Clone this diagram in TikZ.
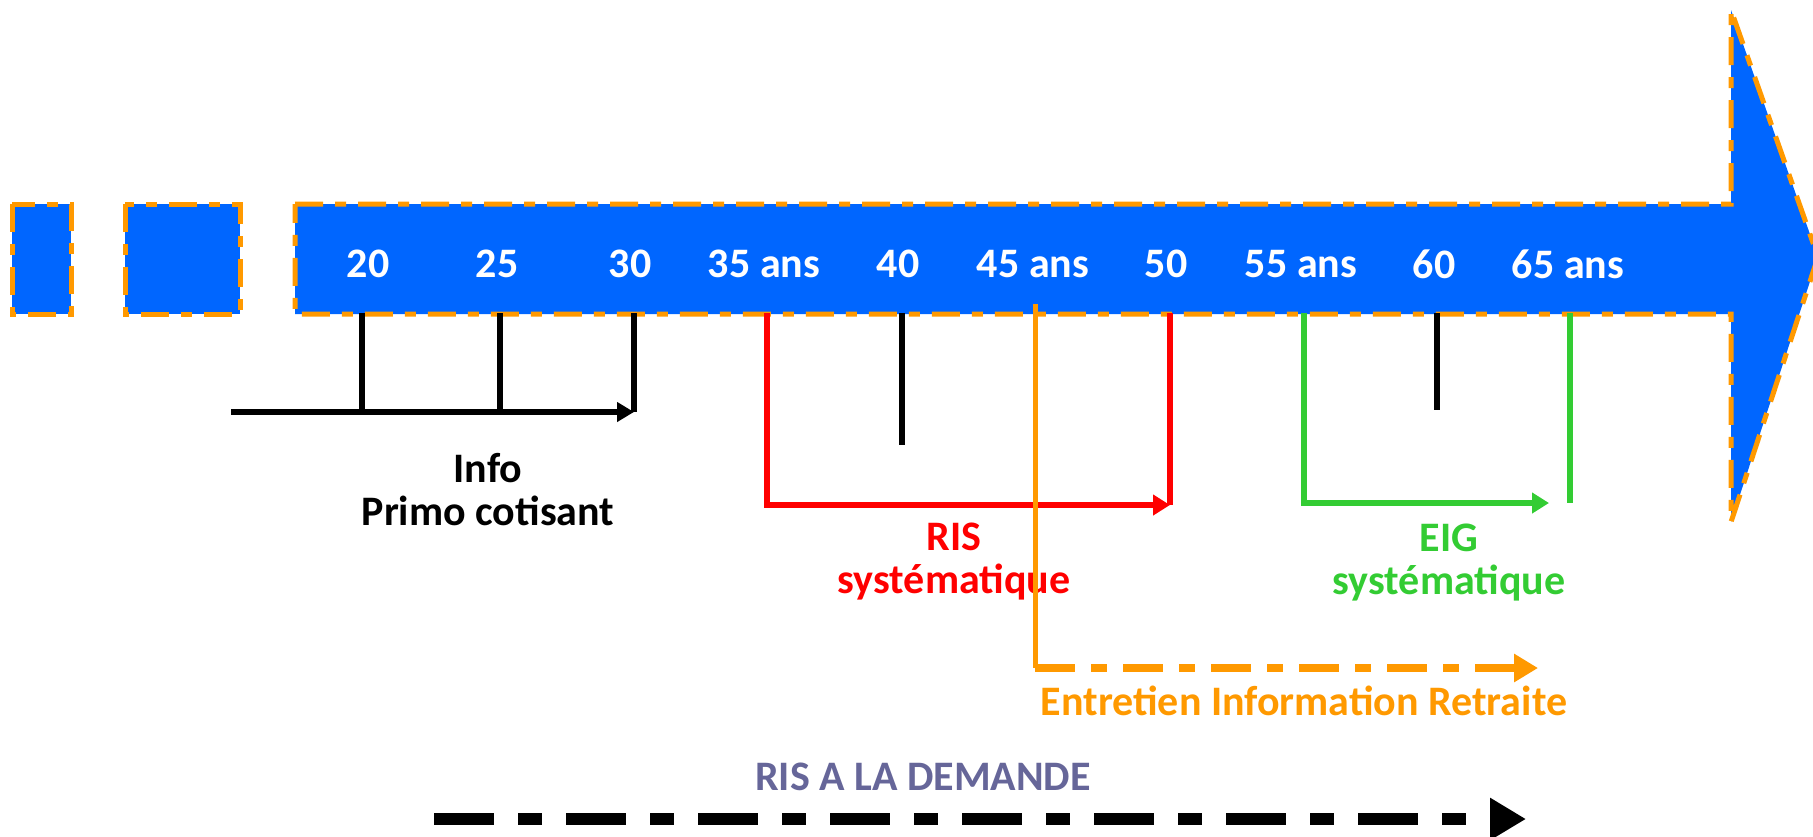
\documentclass[tikz,border=0pt]{standalone}
\usepackage{fontspec}
\setmainfont{Carlito}
\usetikzlibrary{arrows.meta,calc}
\definecolor{barblue}{HTML}{0066FF}
\definecolor{rimorange}{HTML}{FF9900}
\definecolor{risred}{HTML}{FF0000}
\definecolor{eiggreen}{HTML}{33CC33}
\definecolor{slate}{HTML}{666699}
\begin{document}
\begin{tikzpicture}[x=0.5pt,y=-0.5pt,
    rim/.style={fill=barblue,draw=rimorange,line width=2.5pt,dash pattern=on 14pt off 6pt on 5.5pt off 6pt},
    age/.style={text=white,font=\bfseries\fontsize{21}{25}\selectfont},
    lbl/.style={font=\bfseries\fontsize{21}{21.5}\selectfont,align=center},
    agetick/.style={line width=2.8pt},
    risline/.style={draw=risred,line width=2.8pt},
    eigline/.style={draw=eiggreen,line width=2.8pt},
    eirline/.style={draw=rimorange,line width=2.5pt}]
    \clip (0,0) rectangle (1813,836);
    % the time bar
    \draw[rim] (12,204) rectangle (71,314);
    \draw[rim] (125,204) rectangle (240,314);
    \draw[rim] (295,204) -- (1731,204) -- (1731,10) -- (1818,257) -- (1731,522) -- (1731,314) -- (295,314) -- cycle;
    \foreach \x/\t [count=\i] in {368/20,497/25,630/30,764/35 ans,898/40,1033/45 ans,1166/50,1301/55 ans,1434/60,1568/65 ans}
        \node[age] (a\i) at (\x,264) {\t};
    % ticks under the bar
    \coordinate (t20) at (362,313); \coordinate (t25) at (500,313); \coordinate (t30) at (634,313);
    \coordinate (t35) at (767,313); \coordinate (t40) at (902,313); \coordinate (t45) at (1035,304);
    \coordinate (t50) at (1170,313); \coordinate (t55) at (1304,313); \coordinate (t60) at (1437,313);
    \coordinate (t65) at (1570,313);
    \coordinate (e40) at (902,445); \coordinate (e60) at (1437,410);
    \draw[agetick] (t40) -- (e40);
    \draw[agetick] (t60) -- (e60);
    % info primo cotisant
    \coordinate (i0) at (231,412); \coordinate (i1) at (634,412);
    \draw[agetick] (t20) -- (t20 |- i0);
    \draw[agetick] (t25) -- (t25 |- i0);
    \draw[agetick] (t30) -- (i1);
    \draw[agetick,-{Triangle[length=8.5pt,width=9.5pt]}] (i0) -- (i1);
    \node[lbl] (info) at (488,490) {Info\\Primo cotisant};
    % RIS
    \coordinate (r1) at (1170,505);
    \draw[risline,-{Triangle[length=8.5pt,width=10pt]}] (t35) |- (r1);
    \draw[risline] (t50) -- (r1);
    \node[lbl,text=risred] (ris) at (954,562) {RIS\\systématique};
    % EIG
    \coordinate (g1) at (1549,503);
    \draw[eigline,-{Triangle[length=8.5pt,width=10pt]}] (t55) |- (g1);
    \draw[eigline] (t65) -- (t65 |- g1);
    \node[lbl,text=eiggreen] (eig) at (1449,563) {EIG\\systématique};
    % entretien
    \coordinate (o1) at (1538,668);
    \draw[eirline] (t45) -- (t45 |- o1);
    \draw[draw=rimorange,line width=4pt,dash pattern=on 20pt off 8pt on 8pt off 8pt,
        -{Triangle[length=12pt,width=13.5pt]}] (t45 |- o1) -- (o1);
    \node[lbl,text=rimorange] (eir) at (1304,701) {Entretien Information Retraite};
    % RIS a la demande
    \node[lbl,text=slate] (dem) at (923,777) {RIS A LA DEMANDE};
    \coordinate (d0) at (434,819); \coordinate (d1) at (1526,819);
    \draw[line width=6pt,dash pattern=on 30pt off 12pt on 12pt off 12pt,
        -{Triangle[length=18pt,width=20pt]}] (d0) -- (d1);
\end{tikzpicture}
\end{document}
